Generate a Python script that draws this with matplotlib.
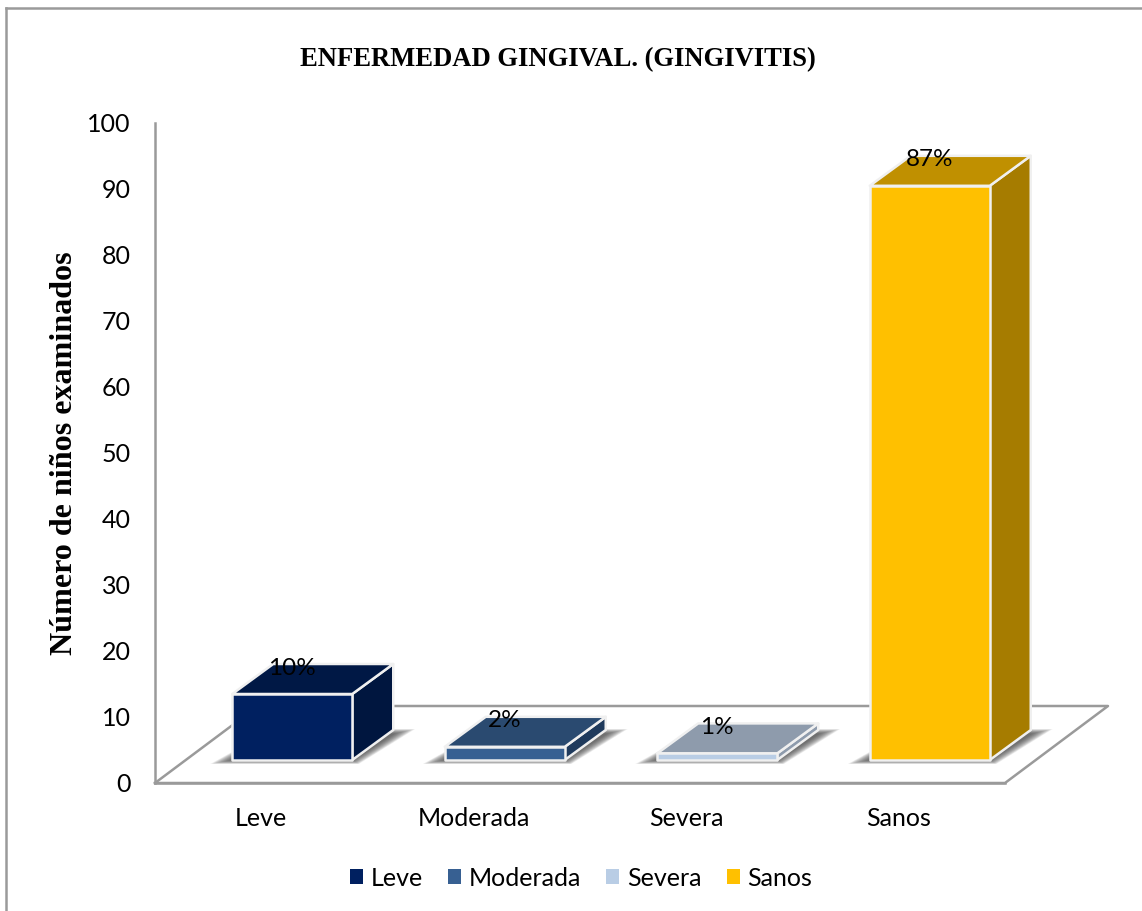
#!/usr/bin/env python3
import matplotlib
matplotlib.use("Agg")
from matplotlib import pyplot as plt
from matplotlib.patches import Patch, Polygon

categorias = ["Leve", "Moderada", "Severa", "Sanos"]
valores = [10, 2, 1, 87]
etiquetas = ["10%", "2%", "1%", "87%"]
yticks = list(range(0, 101, 10))

color_frente = ["#002060", "#376092", "#b9cde5", "#ffc000"]
color_techo = ["#001845", "#2a4a70", "#8e9bac", "#c09000"]
color_lado = ["#00163f", "#1f3a5c", "#8e9bac", "#a67c00"]

W, H = 1142, 911
# geometria del grafico en pixeles
x0, x1 = 155, 1005
y0, y1 = 783, 123

fig = plt.figure(figsize=(W / 100, H / 100), dpi=100)
fig.patch.set_facecolor("white")
ax = fig.add_axes([x0 / W, 1 - y0 / H, (x1 - x0) / W, (y0 - y1) / H])
ax.set_xlim(0, 4)
ax.set_ylim(0, 100)
ax.patch.set_visible(False)

# desplazamientos de la perspectiva (unidades de los ejes)
px = 4 / (x1 - x0)
py = 100 / (y0 - y1)
piso_dx, piso_dy = 103 * px, 77 * py
caja_dx, caja_dy = 41 * px, 30 * py
base_dx, base_dy = 31 * px, 23 * py
ancho = 120 * px

gris = "#9a9a9a"


def poli(puntos, z=2, **kw):
    p = Polygon(puntos, closed=True, clip_on=False, zorder=z, **kw)
    ax.add_patch(p)
    return p


# piso
ax.plot([0, piso_dx], [0, piso_dy], color=gris, lw=1.8, zorder=1, clip_on=False)
ax.plot([piso_dx, 4 + piso_dx, 4, 0], [piso_dy, piso_dy, 0, 0],
        color=gris, lw=1.8, zorder=1, clip_on=False)

# cajas
for i, v in enumerate(valores):
    xa = i + 0.5 + base_dx - ancho / 2
    xb = xa + ancho
    yb = base_dy
    yt = base_dy + v

    # sombra difusa sobre el piso
    n = 18
    for k in range(n):
        e = (1 - k / n)
        ex = e * 22 * px
        ey = e * 5 * py
        poli([(xa - ex, yb - ey * 0.8), (xb + ex * 0.3, yb - ey * 0.8),
              (xb + caja_dx + ex, yb + caja_dy - 4 * py + ey),
              (xa + caja_dx, yb + caja_dy - 4 * py + ey)],
             z=2, facecolor="#444444", edgecolor="none", alpha=0.07)

    borde = dict(edgecolor="#f0f0f0", linewidth=1.8, joinstyle="round")
    poli([(xb, yb), (xb + caja_dx, yb + caja_dy), (xb + caja_dx, yt + caja_dy), (xb, yt)],
         z=3, facecolor=color_lado[i], **borde)
    poli([(xa, yt), (xb, yt), (xb + caja_dx, yt + caja_dy), (xa + caja_dx, yt + caja_dy)],
         z=3, facecolor=color_techo[i], **borde)
    poli([(xa, yb), (xb, yb), (xb, yt), (xa, yt)],
         z=4, facecolor=color_frente[i], **borde)

    ax.text(i + 0.5 + base_dx - 0.5 * px, v + 7.4, etiquetas[i], ha="center", va="center",
            fontsize=17.5, family="Lato", color="black", zorder=6)

# ejes
for s in ["top", "right"]:
    ax.spines[s].set_visible(False)
for s in ["left", "bottom"]:
    ax.spines[s].set_color(gris)
    ax.spines[s].set_linewidth(1.8)
ax.set_yticks(yticks)
ax.set_xticks([i + 0.5 for i in range(4)])
ax.set_xticklabels(categorias, family="Lato", fontsize=18)
ax.tick_params(axis="both", length=0)
ax.tick_params(axis="y", pad=17.5)
ax.tick_params(axis="x", pad=17)
for t in ax.get_yticklabels():
    t.set_family("Lato")
    t.set_fontsize(18)

fig.text(558 / W, 1 - 60 / H, "ENFERMEDAD GINGIVAL. (GINGIVITIS)", ha="center", va="center",
         family="Liberation Serif", weight="bold", fontsize=19.2)
fig.text(65 / W, 1 - 453 / H, "Número de niños examinados", ha="center", va="center",
         rotation=90, family="Liberation Serif", weight="bold", fontsize=23.1)

# leyenda
handles = [Patch(facecolor=c, edgecolor="none") for c in color_frente]
fig.legend(handles, categorias, loc="center", bbox_to_anchor=(581 / W, 1 - 878 / H), ncol=4,
           frameon=False, handlelength=0.52, handleheight=0.52, handletextpad=0.32,
           columnspacing=1.0, prop={"family": "Lato", "size": 18})

# marco exterior
marco = dict(color=gris, lw=1.8, transform=fig.transFigure)
fig.add_artist(plt.Line2D([6 / W, 6 / W], [0, 1 - 7.5 / H], **marco))
fig.add_artist(plt.Line2D([6 / W, 1], [1 - 7.5 / H, 1 - 7.5 / H], **marco))

fig.savefig("out.png", dpi=100)
